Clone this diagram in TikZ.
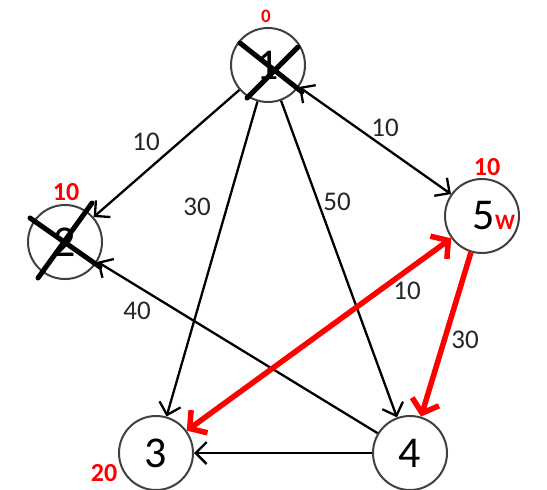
\documentclass[tikz,border=0pt]{standalone}
\usepackage{fontspec}
\setmainfont{Carlito}
\usetikzlibrary{arrows.meta}

\begin{document}
\begin{tikzpicture}[x=1pt,y=-1pt,>={Straight Barb[length=11pt,width=22pt]},
  vertex/.style={circle,draw=black!75,line width=2pt,minimum size=74pt,
    inner sep=0pt,font=\fontsize{44}{44}\selectfont},
  edge/.style={->,line width=2.3pt},
  redge/.style={line width=5.5pt,red,>={Straight Barb[length=12pt,width=28pt]}},
  weight/.style={font=\fontsize{27}{27}\selectfont,text=black!85,inner sep=0pt},
  dist/.style={font=\bfseries\fontsize{26}{26}\selectfont,text=red,inner sep=0pt},
  strike/.style={line width=5pt,line cap=round}]
  \useasboundingbox (0,0) rectangle (547,490);

  % vertices
  \node[vertex] (n1) at (268,65) {1};
  \node[vertex] (n2) at (65,242) {2};
  \node[vertex] (n3) at (156,453) {3};
  \node[vertex] (n4) at (410,453) {4};
  \node[vertex,label={[xshift=12pt,inner sep=0pt,font=\fontsize{44}{44}\selectfont]center:{5\textcolor{red}{\bfseries\fontsize{22}{22}\selectfont W}}}]
    (n5) at (482,216) {};

  % crossed out vertices
  \draw[strike] (240,43) -- (302,92);
  \draw[strike] (298,47) -- (247,98);
  \draw[strike] (30,218) -- (100,267);
  \draw[strike] (92,203) -- (38,278);

  % distances
  \node[dist,font=\bfseries\fontsize{19}{19}\selectfont] (d1) at (266,16) {0};
  \node[dist] (d2) at (66,192) {10};
  \node[dist] (d5) at (487,167) {10};
  \node[dist] (d3) at (104,473) {20};

  % edges
  \draw[edge] (n1) -- (n2);
  \draw[edge] (n1) -- (n3);
  \draw[edge] (n1) -- (n4);
  \draw[edge,<->] (n1) -- (n5);
  \draw[edge] (n4) -- (n2);
  \draw[edge] (n4) -- (n3);
  \draw[redge,<->] (n5) -- (n3);
  \draw[redge,->] (n5) -- (n4);

  % weights
  \node[weight] (w12) at (146,142) {10};
  \node[weight] (w13) at (197,207) {30};
  \node[weight] (w14) at (337,202) {50};
  \node[weight] (w15) at (385,128) {10};
  \node[weight] (w42) at (137,311) {40};
  \node[weight] (w53) at (407,291) {10};
  \node[weight] (w54) at (465,340) {30};
\end{tikzpicture}
\end{document}
